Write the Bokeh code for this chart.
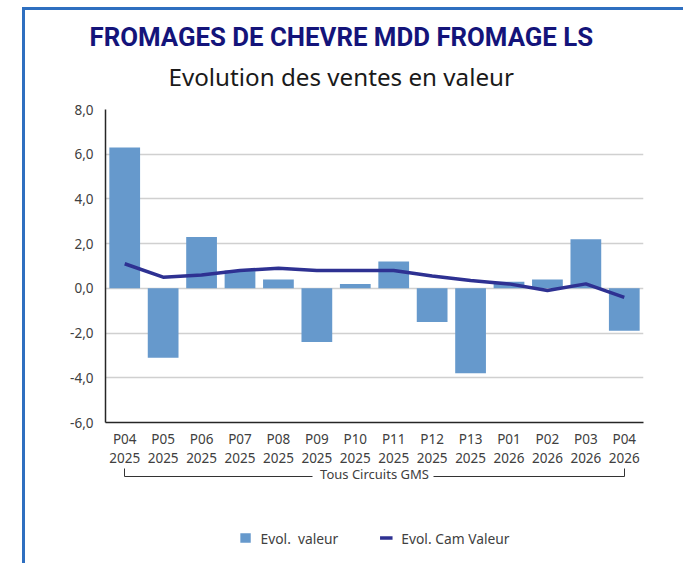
from bokeh.plotting import figure
from bokeh.layouts import column
from bokeh.models import (ColumnDataSource, FixedTicker, Range1d, Legend, LegendItem,
                          Title, LinearAxis)
from bokeh.embed import file_html
from bokeh.resources import INLINE

# ---- data ----
periods = ["P04", "P05", "P06", "P07", "P08", "P09", "P10", "P11", "P12", "P13",
           "P01", "P02", "P03", "P04"]
years = ["2025"] * 10 + ["2026"] * 4
evol_valeur = [6.3, -3.1, 2.3, 0.8, 0.4, -2.4, 0.2, 1.2, -1.5, -3.8, 0.3, 0.4, 2.2, -1.9]
evol_cam_valeur = [1.1, 0.5, 0.6, 0.8, 0.9, 0.8, 0.8, 0.8, 0.55, 0.35, 0.2, -0.1, 0.2, -0.4]
y_ticks = [-6, -4, -2, 0, 2, 4, 6, 8]
title_text = "FROMAGES DE CHEVRE MDD FROMAGE LS"
subtitle_text = "Evolution des ventes en valeur"
group_label = "Tous Circuits GMS"
series_names = ["Evol.  valeur", "Evol. Cam Valeur"]

BAR_COLOR = "#6699cc"
LINE_COLOR = "#2e3192"
FRAME_BLUE = "#2e6fc0"

W, H1, H2 = 658, 505, 48
n = len(periods)
xs = list(range(n))

src = ColumnDataSource(dict(x=xs, v=evol_valeur, cam=evol_cam_valeur))

p = figure(width=W, height=H1, output_backend="svg", toolbar_location=None,
           x_range=Range1d(-0.5, n - 0.5), y_range=Range1d(min(y_ticks), max(y_ticks)),
           min_border_left=80, min_border_right=36, min_border_top=99,
           min_border_bottom=93)
p.outline_line_color = None

bars = p.vbar(x="x", top="v", bottom=0, width=0.8, source=src,
              fill_color=BAR_COLOR, line_color=None)
line = p.line(x="x", y="cam", source=src, line_color=LINE_COLOR, line_width=3.5)

# main x axis
xa = p.xaxis[0]
xa.ticker = FixedTicker(ticks=xs)
xa.major_label_overrides = {i: f"{periods[i]}\n{years[i]}" for i in xs}
xa.major_tick_line_color = None
xa.minor_tick_line_color = None
xa.axis_line_color = "#262626"
xa.axis_line_width = 1.5
xa.major_label_text_font = "Noto Sans"
xa.major_label_text_font_size = "13.5px"
xa.major_label_text_color = "#404040"
xa.major_label_text_line_height = 1.08
xa.major_label_standoff = 1
xa.axis_label = " "
xa.axis_label_text_font_size = "1px"
xa.axis_label_standoff = 2

# bracket axis ("Tous Circuits GMS")
ba = LinearAxis(bounds=(xs[0], xs[-1]), ticker=FixedTicker(ticks=[xs[0], xs[-1]]),
                major_tick_in=8, major_tick_out=0, major_tick_line_color="#333333",
                major_tick_line_width=1, minor_tick_line_color=None,
                axis_line_color="#333333", axis_line_width=1,
                axis_line_dash="188 121 300",
                major_label_text_font_size="1px", major_label_text_alpha=0,
                major_label_standoff=0,
                axis_label=group_label, axis_label_standoff=-12,
                axis_label_text_font="Noto Sans", axis_label_text_font_size="13px",
                axis_label_text_font_style="normal", axis_label_text_color="#404040")
p.add_layout(ba, "below")

# y axis
ya = p.yaxis[0]
ya.ticker = FixedTicker(ticks=y_ticks)
ya.major_label_overrides = {t: f"{t:.1f}".replace(".", ",") for t in y_ticks}
ya.major_tick_line_color = None
ya.minor_tick_line_color = None
ya.axis_line_color = "#262626"
ya.axis_line_width = 1.5
ya.major_label_text_font = "Noto Sans"
ya.major_label_text_font_size = "13.5px"
ya.major_label_text_color = "#404040"
ya.major_label_standoff = 6

p.xgrid.grid_line_color = None
p.ygrid.ticker = FixedTicker(ticks=y_ticks)
p.ygrid.grid_line_color = "#d0d0d0"
p.ygrid.grid_line_width = 1.5

# titles (first added is closest to the frame)
p.add_layout(Title(text=subtitle_text, align="left", offset=63, standoff=34,
                   text_font="Noto Sans", text_font_style="normal",
                   text_font_size="24.2px", text_color="#1a1a1a"), "above")
p.add_layout(Title(text=title_text, align="left", offset=-16, standoff=-22,
                   text_font="Roboto", text_font_style="bold",
                   text_font_size="25.8px", text_color="#14147a"), "above")

# legend strip (separate figure below the chart)
q = figure(width=W, height=H2, output_backend="svg", toolbar_location=None,
           x_range=Range1d(0, 1), y_range=Range1d(0, 1),
           min_border_left=77, min_border_right=40, min_border_top=0,
           min_border_bottom=3)
q.outline_line_color = None
q.axis.visible = False
q.grid.visible = False
lb = q.vbar(x="x", top="v", width=0.8, source=src, fill_color=BAR_COLOR,
            line_color=None, visible=False)
ll = q.line(x="x", y="cam", source=src, line_color=LINE_COLOR, line_width=3.5,
            visible=False)
legend = Legend(items=[LegendItem(label=series_names[0], renderers=[lb]),
                       LegendItem(label=series_names[1], renderers=[ll])],
                orientation="horizontal", location="center",
                border_line_color=None, background_fill_alpha=0,
                label_text_font="Noto Sans", label_text_font_size="13.8px",
                label_text_color="#404040", glyph_width=13, glyph_height=12,
                label_standoff=9, spacing=41, padding=5,
                inactive_fill_alpha=0, click_policy="none")
q.add_layout(legend)

# outer blue frame (left and top edges) as CSS borders of the layout box
layout = column(p, q, spacing=0,
                styles={"margin-left": "22px", "margin-top": "7px",
                        "border-left": f"3px solid {FRAME_BLUE}",
                        "border-top": f"3px solid {FRAME_BLUE}"})
open("out.html", "w").write(file_html(layout, INLINE))
